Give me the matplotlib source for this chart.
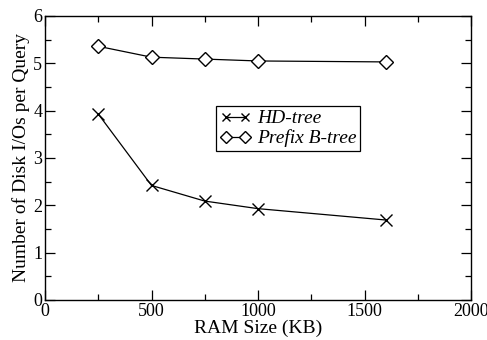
import matplotlib
matplotlib.use("Agg")
import matplotlib.pyplot as plt
from matplotlib.ticker import MultipleLocator

ram_kb = [250, 500, 750, 1000, 1600]
hd_tree = [3.93, 2.42, 2.09, 1.93, 1.69]
prefix_btree = [5.36, 5.13, 5.09, 5.05, 5.03]
labels = ["HD-tree", "Prefix B-tree"]

plt.rcParams['font.family'] = ['Liberation Serif', 'DejaVu Serif']

fig = plt.figure(figsize=(4.87, 3.40), dpi=100)
ax = fig.add_axes([45/487, 1 - 300/340, 426/487, 284/340])

ax.plot(ram_kb, hd_tree, color='black', lw=0.9, marker='x', ms=8, mew=1.0, label=labels[0])
ax.plot(ram_kb, prefix_btree, color='black', lw=0.9, marker='D', ms=7.5, mfc='white', mew=1.0, label=labels[1])

ax.set_xlim(0, 2000)
ax.set_ylim(0, 6)
ax.xaxis.set_major_locator(MultipleLocator(500))
ax.xaxis.set_minor_locator(MultipleLocator(250))
ax.yaxis.set_major_locator(MultipleLocator(1))
ax.yaxis.set_minor_locator(MultipleLocator(0.5))
ax.tick_params(which='both', direction='in', top=True, right=True, labelsize=13, width=0.9)
ax.tick_params(which='major', length=7, pad=2)
ax.tick_params(which='minor', length=4)
for s in ax.spines.values():
    s.set_linewidth(1.0)

ax.set_xlabel("RAM Size (KB)", fontsize=14, labelpad=0)
ax.set_ylabel("Number of Disk I/Os per Query", fontsize=14, labelpad=2)

leg = ax.legend(loc='upper left', bbox_to_anchor=(171/426, (300-106)/284), prop={'style': 'italic', 'size': 14},
                frameon=True, fancybox=False, edgecolor='black', framealpha=1, numpoints=2, markerscale=0.8,
                handlelength=1.6, handletextpad=0.3, borderpad=0.2, labelspacing=0.1, borderaxespad=0)
leg.get_frame().set_linewidth(0.9)

fig.savefig("out.png", dpi=100)
